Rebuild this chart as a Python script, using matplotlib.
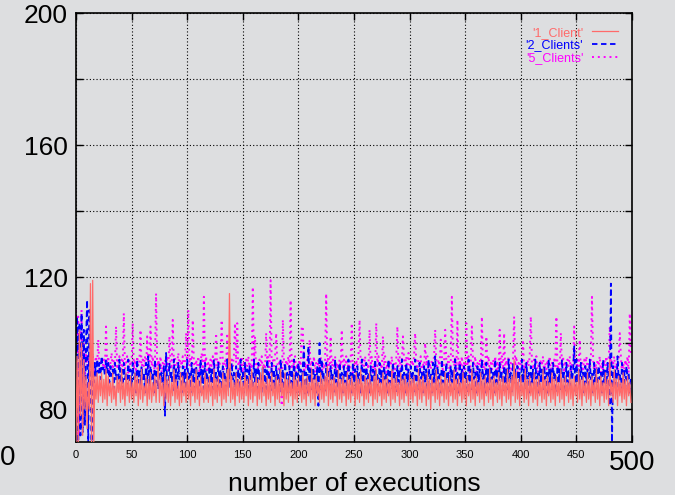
import matplotlib
matplotlib.use("Agg")
import matplotlib.pyplot as plt
import numpy as np

plt.rcParams['font.family'] = ['Liberation Sans', 'DejaVu Sans']

# response times (one value per execution)
one_client = [
    70, 96, 70, 104, 78, 100, 72, 95, 80, 90, 74, 88, 80, 118, 70, 119, 70, 90, 83, 91, 82, 90, 84, 91, 82,
    89, 83, 92, 81, 90, 84, 88, 82, 91, 83, 87, 81, 90, 85, 89, 82, 92, 83, 88, 81, 91, 84, 89, 82, 90,
    83, 88, 82, 91, 84, 90, 81, 89, 83, 92, 82, 87, 84, 90, 81, 89, 83, 91, 82, 88, 84, 90, 82, 89, 93,
    82, 90, 84, 88, 81, 91, 83, 89, 82, 90, 81, 88, 84, 92, 82, 89, 83, 87, 81, 91, 82, 90, 84, 88, 82,
    91, 83, 89, 81, 90, 84, 88, 82, 92, 83, 89, 81, 90, 84, 87, 82, 91, 83, 89, 82, 90, 84, 88, 81, 92,
    83, 89, 82, 90, 84, 88, 81, 91, 83, 89, 82, 92, 84, 115, 82, 90, 83, 88, 81, 91, 84, 89, 82, 90, 83,
    88, 82, 91, 84, 89, 81, 90, 83, 92, 82, 88, 84, 90, 81, 89, 83, 91, 82, 93, 84, 88, 81, 90, 83, 89,
    82, 91, 84, 88, 81, 90, 83, 89, 82, 92, 84, 88, 81, 91, 83, 89, 82, 90, 84, 88, 81, 91, 83, 89, 82,
    90, 84, 88, 82, 91, 83, 89, 81, 90, 84, 88, 82, 92, 83, 89, 81, 90, 84, 88, 82, 91, 83, 89, 82, 90,
    84, 93, 81, 91, 83, 89, 82, 90, 84, 88, 81, 92, 83, 89, 82, 90, 84, 88, 81, 91, 83, 89, 82, 90, 84,
    88, 81, 91, 83, 89, 82, 92, 84, 88, 81, 90, 83, 89, 82, 91, 84, 88, 81, 90, 83, 92, 82, 89, 84, 88,
    81, 91, 83, 89, 82, 90, 84, 88, 81, 92, 83, 89, 82, 90, 84, 88, 81, 91, 83, 89, 82, 90, 84, 88, 81,
    91, 83, 89, 82, 90, 84, 88, 81, 92, 83, 89, 82, 90, 84, 88, 81, 91, 83, 89, 80, 90, 84, 88, 82, 92,
    83, 89, 81, 90, 84, 88, 82, 91, 83, 89, 81, 90, 84, 88, 82, 92, 83, 89, 81, 90, 84, 88, 82, 91, 83,
    89, 81, 90, 84, 88, 82, 92, 83, 89, 81, 90, 84, 88, 82, 91, 83, 89, 81, 90, 84, 88, 82, 92, 83, 89,
    81, 90, 84, 88, 82, 91, 83, 89, 81, 90, 84, 88, 82, 92, 83, 89, 81, 90, 84, 95, 82, 91, 83, 89, 81,
    90, 84, 88, 82, 92, 83, 89, 81, 90, 84, 88, 82, 91, 83, 89, 81, 90, 84, 88, 82, 92, 83, 89, 81, 90,
    84, 88, 82, 91, 83, 89, 81, 90, 84, 88, 82, 92, 83, 89, 81, 90, 84, 88, 82, 91, 83, 89, 81, 90, 84,
    88, 82, 92, 83, 89, 81, 90, 84, 88, 82, 91, 83, 89, 81, 90, 84, 88, 82, 92, 83, 89, 81, 90, 84, 88,
    82, 91, 83, 89, 81, 95, 84, 88, 82, 92, 83, 89, 81, 90, 84, 88, 82, 91, 83, 89, 81, 90, 84, 88, 82,
]

two_clients = [
    70, 108, 70, 106, 72, 109, 73, 104, 75, 100, 113, 70, 110, 96, 70, 92, 88, 94, 90, 95, 91, 94, 89, 96, 92,
    93, 90, 95, 91, 94, 88, 93, 90, 92, 86, 94, 89, 91, 87, 95, 88, 92, 86, 94, 89, 91, 87, 95, 88, 92,
    86, 94, 89, 91, 85, 95, 88, 92, 86, 93, 89, 91, 85, 94, 88, 96, 86, 93, 89, 91, 85, 95, 88, 92, 86,
    94, 89, 91, 85, 93, 78, 97, 88, 86, 94, 89, 91, 85, 95, 88, 92, 86, 94, 89, 91, 85, 93, 88, 92, 86,
    95, 89, 91, 85, 94, 88, 92, 86, 93, 89, 91, 85, 95, 88, 92, 86, 94, 89, 91, 85, 93, 88, 92, 86, 95,
    89, 91, 85, 94, 88, 92, 86, 93, 89, 91, 85, 95, 88, 92, 86, 94, 89, 91, 85, 93, 88, 92, 86, 95, 89,
    91, 85, 94, 88, 92, 86, 93, 89, 91, 85, 95, 88, 92, 86, 94, 89, 91, 85, 93, 88, 92, 86, 95, 89, 91,
    85, 94, 88, 92, 86, 93, 89, 91, 85, 95, 88, 92, 86, 94, 89, 91, 85, 93, 88, 92, 86, 95, 89, 91, 85,
    94, 88, 92, 86, 93, 99, 84, 91, 85, 99, 88, 92, 86, 94, 89, 91, 85, 93, 81, 100, 86, 95, 89, 91, 85,
    94, 88, 92, 86, 93, 89, 91, 85, 95, 88, 92, 86, 94, 89, 91, 85, 93, 88, 92, 86, 95, 89, 91, 85, 94,
    88, 92, 86, 93, 89, 91, 85, 95, 88, 92, 86, 94, 89, 91, 85, 93, 88, 92, 86, 95, 89, 91, 85, 94, 88,
    92, 86, 93, 89, 91, 85, 95, 88, 92, 86, 94, 89, 91, 85, 93, 88, 92, 86, 95, 89, 91, 85, 94, 88, 92,
    86, 93, 89, 91, 85, 95, 88, 92, 86, 94, 89, 91, 85, 93, 88, 92, 86, 95, 89, 91, 85, 94, 88, 96, 86,
    93, 89, 91, 85, 95, 88, 92, 86, 94, 89, 91, 85, 93, 88, 92, 86, 95, 89, 91, 85, 94, 88, 92, 86, 93,
    89, 91, 85, 95, 88, 92, 86, 94, 89, 91, 85, 93, 88, 92, 86, 95, 89, 91, 85, 94, 88, 92, 86, 93, 89,
    91, 85, 95, 88, 92, 86, 94, 89, 91, 85, 93, 88, 92, 86, 95, 89, 91, 85, 94, 88, 92, 86, 93, 89, 91,
    85, 95, 88, 92, 86, 94, 89, 91, 85, 93, 88, 92, 86, 95, 89, 91, 85, 94, 88, 92, 86, 93, 89, 91, 85,
    95, 88, 92, 86, 94, 89, 91, 85, 93, 88, 92, 86, 95, 89, 91, 85, 94, 88, 92, 86, 93, 89, 91, 99, 85,
    95, 88, 92, 86, 94, 89, 91, 85, 93, 88, 92, 86, 95, 89, 91, 85, 94, 88, 92, 86, 93, 89, 91, 85, 95,
    88, 92, 86, 94, 89, 81, 118, 70, 93, 88, 92, 86, 96, 89, 91, 85, 94, 88, 92, 86, 93, 89, 91, 85, 90,
]

five_clients = [
    110, 70, 108, 72, 96, 110, 75, 100, 90, 98, 93, 96, 90, 95, 92, 97, 91, 94, 96, 93, 101, 92, 95, 94, 93,
    95, 92, 105, 93, 96, 91, 94, 97, 92, 95, 93, 105, 92, 94, 96, 91, 95, 93, 109, 92, 94, 96, 91, 95, 93,
    94, 106, 92, 95, 91, 96, 93, 94, 104, 92, 95, 93, 96, 91, 102, 94, 92, 105, 93, 96, 91, 94, 115, 92, 95,
    93, 96, 91, 94, 92, 95, 93, 96, 91, 102, 94, 92, 107, 93, 96, 91, 94, 97, 92, 95, 93, 96, 91, 94, 103,
    92, 110, 93, 96, 91, 107, 94, 92, 95, 93, 96, 91, 94, 97, 92, 114, 93, 96, 91, 94, 92, 95, 93, 96, 91,
    94, 103, 92, 95, 93, 96, 107, 94, 92, 95, 93, 103, 91, 94, 92, 95, 93, 96, 106, 94, 106, 92, 95, 93, 96,
    91, 94, 92, 95, 93, 96, 91, 94, 92, 117, 93, 102, 91, 94, 92, 95, 93, 96, 91, 94, 92, 103, 93, 96, 91,
    119, 92, 95, 93, 96, 103, 94, 92, 95, 93, 81, 107, 94, 92, 95, 93, 96, 91, 113, 92, 95, 93, 96, 91, 94,
    92, 95, 93, 105, 105, 91, 94, 92, 95, 93, 101, 92, 95, 93, 96, 91, 94, 92, 95, 93, 96, 91, 94, 92, 95,
    115, 93, 96, 91, 102, 92, 95, 93, 96, 91, 94, 92, 95, 93, 104, 92, 95, 93, 96, 91, 94, 92, 95, 106, 91,
    94, 92, 95, 93, 96, 107, 94, 92, 95, 93, 96, 91, 94, 92, 104, 93, 96, 91, 94, 92, 106, 93, 96, 91, 94,
    92, 102, 93, 96, 91, 94, 92, 95, 93, 96, 91, 94, 92, 95, 105, 93, 96, 91, 94, 102, 95, 93, 96, 91, 97,
    94, 92, 95, 93, 96, 103, 94, 92, 95, 93, 96, 91, 94, 92, 100, 93, 96, 91, 94, 92, 95, 93, 96, 104, 94,
    92, 95, 93, 101, 96, 91, 94, 104, 95, 93, 96, 91, 94, 114, 95, 93, 96, 91, 107, 92, 95, 93, 96, 91, 94,
    92, 106, 93, 96, 91, 94, 105, 95, 93, 96, 91, 94, 92, 95, 93, 108, 91, 94, 92, 102, 93, 96, 91, 94, 92,
    95, 93, 96, 91, 94, 92, 104, 93, 96, 91, 103, 92, 95, 93, 96, 91, 94, 92, 95, 108, 93, 96, 91, 94, 92,
    95, 93, 101, 91, 94, 92, 95, 93, 96, 108, 94, 92, 95, 93, 96, 91, 94, 92, 95, 93, 96, 91, 94, 92, 95,
    93, 96, 91, 94, 92, 95, 93, 108, 91, 94, 92, 103, 93, 96, 91, 94, 92, 95, 93, 96, 91, 94, 92, 105, 94,
    92, 95, 93, 101, 91, 94, 92, 95, 93, 96, 91, 94, 92, 95, 114, 96, 91, 94, 92, 95, 93, 96, 91, 94, 92,
    95, 93, 96, 91, 94, 105, 92, 95, 93, 96, 91, 94, 92, 95, 103, 96, 91, 94, 92, 95, 93, 96, 91, 109, 96,
]

executions = np.arange(len(one_client))

bg = '#dddee0'
fig = plt.figure(figsize=(6.75, 4.95), dpi=100, facecolor=bg)
ax = fig.add_axes([0.1126, 0.107, 0.8237, 0.8667], facecolor=bg)

ax.plot(executions, one_client, color='#ff6a6a', lw=0.9, label="'1_Client'", zorder=2.6)
ax.plot(executions, two_clients, color='#0000ff', lw=1.3, ls=(0, (3, 2)), label="'2_Clients'", zorder=2.4)
ax.plot(executions, five_clients, color='#ff00ff', lw=1.4, ls=(0, (1, 2)), label="'5_Clients'", zorder=2.2)

ax.set_xlim(0, 500)
ax.set_ylim(70, 200)

ax.set_xticks(np.arange(0, 501, 50))
xlabels = [str(v) for v in range(0, 501, 50)]
ax.set_xticklabels(xlabels, fontsize=8)
ax.get_xticklabels()[-1].set_fontsize(20)
ax.set_yticks(np.arange(80, 201, 20))
ax.set_yticklabels(['80', '', '120', '', '160', '', '200'], fontsize=19)

ax.tick_params(direction='in', top=True, right=True, length=5, width=1)
ax.tick_params(axis='x', pad=6)
ax.tick_params(axis='y', pad=6)
ax.grid(True, color='black', ls=(0, (1, 2)), lw=0.8)
for sp in ax.spines.values():
    sp.set_linewidth(1.2)

ax.set_xlabel('number of executions', fontsize=19, labelpad=-3)
fig.text(0.011, 0.075, '0', fontsize=20, ha='center', va='center')

leg = ax.legend(loc='upper right', frameon=False, markerfirst=False, fontsize=9,
                labelcolor='linecolor', handlelength=2.1, labelspacing=0.05,
                borderaxespad=0.7, handletextpad=0.7)

fig.savefig('out.png', dpi=100, facecolor=bg)
